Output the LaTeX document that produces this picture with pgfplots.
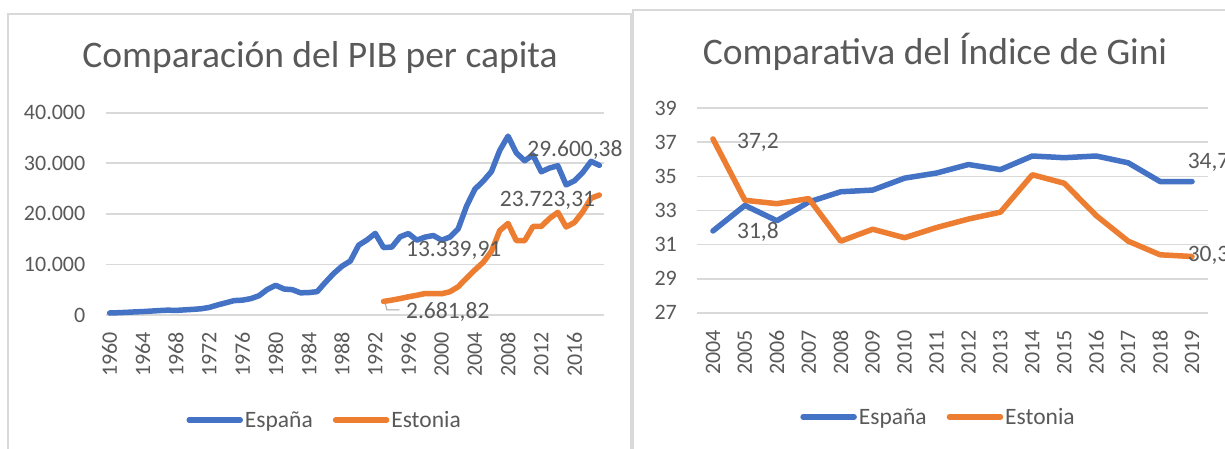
\documentclass[border=0pt]{standalone}
\usepackage{fontspec}
\setmainfont{Carlito}
\usepackage{pgfplots}
\pgfplotsset{compat=1.18}
\definecolor{azul}{HTML}{4472C4}
\definecolor{naranja}{HTML}{ED7D31}
\definecolor{rejilla}{HTML}{D9D9D9}
\definecolor{texto}{HTML}{595959}

\tikzset{etiqueta/.style={font=\fontsize{23.5}{27}\selectfont, text=texto, inner sep=0pt, anchor=west}}
\pgfplotsset{
  excel/.style={
    scale only axis, clip=false,
    axis line style={draw=none}, tick style={draw=none},
    ymajorgrids, major grid style={rejilla, line width=1.8pt},
    font=\fontsize{22}{26}\selectfont,
    tick label style={text=texto, inner sep=0pt, /pgf/number format/assume math mode=true},
    yticklabel style={anchor=east},
    yticklabel shift=20pt,
    xticklabel style={rotate=90, anchor=east, /pgf/number format/1000 sep={}},
    xticklabel shift=17pt,
    legend columns=2, legend cell align=left,
    legend style={draw=none, fill=none, font=\fontsize{23.5}{27}\selectfont, text=texto, anchor=center,
      /tikz/every even column/.append style={column sep=18pt}},
    legend image code/.code={\draw[#1] (0pt,0pt) -- (51pt,0pt);},
    every axis plot/.append style={line width=5.5pt, line join=round, line cap=round, mark=none},
  },
}

\begin{document}
\begin{tikzpicture}
\useasboundingbox (0pt,0pt) rectangle (1225pt,448pt);
\clip (0pt,0pt) rectangle (1225pt,448pt);
\fill[white] (0pt,0pt) rectangle (1225pt,448pt);
\draw[rejilla, line width=1.5pt] (8pt,-10pt) rectangle (631pt,434pt);
\draw[rejilla, line width=1.5pt] (633pt,-10pt) rectangle (1240pt,438pt);

\node[font=\fontsize{37.5}{42}\selectfont, text=texto, anchor=base] at (320pt,380pt) {Comparación del PIB per capita};
\node[font=\fontsize{37.5}{42}\selectfont, text=texto, anchor=base] at (935pt,383pt) {Comparativa del Índice de Gini};

% PIB per capita
\begin{axis}[excel,
  at={(105.5pt,133pt)}, anchor=south west,
  width=498pt, height=202.3pt,
  xmin=1959.5, xmax=2019.5, ymin=0, ymax=40000,
  xtick={1960,1964,...,2016},
  ytick={0,10000,...,40000}, scaled y ticks=false,
  yticklabel style={/pgf/number format/.cd, fixed, 1000 sep={.}},
  legend style={at={(0.44,-0.519)}},
]
\addplot[azul] coordinates {
(1960,396) (1961,451) (1962,520) (1963,609) (1964,675) (1965,773) (1966,880) (1967,957)
(1968,906) (1969,1011) (1970,1112) (1971,1231) (1972,1494) (1973,1985) (1974,2412) (1975,2849)
(1976,2937) (1977,3233) (1978,3816) (1979,5062) (1980,5879) (1981,5144) (1982,5016) (1983,4384)
(1984,4435) (1985,4619) (1986,6472) (1987,8220) (1988,9653) (1989,10680) (1990,13804) (1991,14833)
(1992,16133) (1993,13339.91) (1994,13438) (1995,15470) (1996,16108) (1997,14796) (1998,15404) (1999,15719)
(2000,14788) (2001,15420) (2002,17076) (2003,21523) (2004,24880) (2005,26456) (2006,28370) (2007,32549)
(2008,35366) (2009,32043) (2010,30503) (2011,31637) (2012,28324) (2013,29060) (2014,29513) (2015,25732)
(2016,26537) (2017,28186) (2018,30380) (2019,29600.38)
};
\addplot[naranja] coordinates {
(1993,2681.82) (1994,2950) (1995,3250) (1996,3600) (1997,3900) (1998,4250) (1999,4250) (2000,4200)
(2001,4600) (2002,5600) (2003,7300) (2004,8900) (2005,10400) (2006,12600) (2007,16700) (2008,18100)
(2009,14700) (2010,14700) (2011,17500) (2012,17500) (2013,19100) (2014,20300) (2015,17400) (2016,18300)
(2017,20400) (2018,23100) (2019,23723.31)
};
\legend{España,Estonia}
\draw[gray!70, line width=1pt] (axis cs:1993.2,2400) -- (axis cs:1993.4,990) -- (axis cs:1994.9,990);
\node[etiqueta] at (axis cs:2010.3,32600) {29.600,38};
\node[etiqueta] at (axis cs:2007.0,22700) {23.723,31};
\node[etiqueta] at (axis cs:1995.7,12850) {13.339,91};
\node[etiqueta] at (axis cs:1995.7,600) {2.681,82};
\end{axis}

% Indice de Gini
\begin{axis}[excel,
  at={(697pt,135.3pt)}, anchor=south west,
  width=511pt, height=204.4pt,
  xmin=2003.5, xmax=2019.5, ymin=27, ymax=39,
  xtick={2004,2005,...,2019},
  ytick={27,29,...,39},
  legend style={at={(0.4726,-0.510)}},
]
\addplot[azul] coordinates {
(2004,31.8) (2005,33.3) (2006,32.4) (2007,33.5) (2008,34.1) (2009,34.2) (2010,34.9) (2011,35.2)
(2012,35.7) (2013,35.4) (2014,36.2) (2015,36.1) (2016,36.2) (2017,35.8) (2018,34.7) (2019,34.7)
};
\addplot[naranja] coordinates {
(2004,37.2) (2005,33.6) (2006,33.4) (2007,33.7) (2008,31.2) (2009,31.9) (2010,31.4) (2011,32.0)
(2012,32.5) (2013,32.9) (2014,35.1) (2015,34.6) (2016,32.7) (2017,31.2) (2018,30.4) (2019,30.3)
};
\legend{España,Estonia}
\node[etiqueta] at (axis cs:2004.75,37.02) {37,2};
\node[etiqueta] at (axis cs:2004.75,31.74) {31,8};
\node[etiqueta] at (axis cs:2018.86,35.85) {34,7};
\node[etiqueta] at (axis cs:2018.86,30.39) {30,3};
\end{axis}
\end{tikzpicture}
\end{document}
